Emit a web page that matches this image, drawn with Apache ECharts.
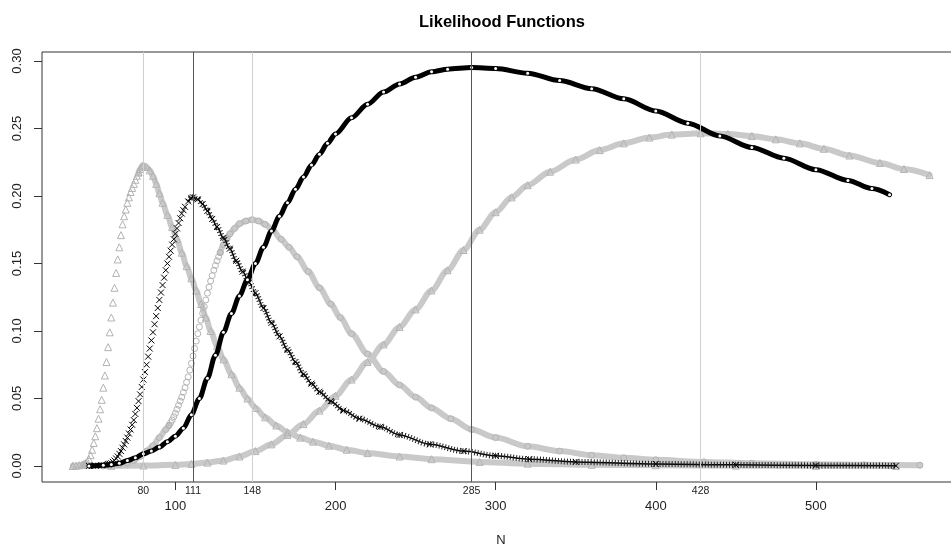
<!DOCTYPE html>
<html>
<head>
<meta charset="utf-8">
<title>Likelihood Functions</title>
<script src="https://cdn.jsdelivr.net/npm/echarts@6/dist/echarts.min.js"></script>
<style>
  html, body { margin: 0; padding: 0; background: #fff; }
  #chart { width: 951px; height: 548px; }
</style>
</head>
<body>
<div id="chart"></div>
<script>
// MLE of each likelihood (vertical reference lines + small labels)
var mleMarks = [80, 111, 148, 285, 428];
var xTicks = [100, 200, 300, 400, 500];
var yTicks = [0, 0.05, 0.10, 0.15, 0.20, 0.25, 0.30];

// curve A - grey triangles, peak at 80
var nA = [36, 38, 40, 42, 43, 44, 45, 46, 47, 48, 49, 50, 51, 52, 53, 54, 55, 56, 57, 58, 59, 60,
  61, 62, 63, 64, 65, 66, 67, 68, 69, 70, 71, 72, 73, 74, 75, 76, 77, 78, 79, 80,
  82, 84, 86, 88, 90, 92, 95, 98, 101, 104, 107, 110, 113, 116, 119, 122, 126, 130, 135, 140,
  145, 150, 156, 163, 170, 178, 186, 196, 207, 220, 240, 260, 290, 320, 360, 400, 450, 500, 550];
var likA = [0, 0.0002, 0.0005, 0.001, 0.0015, 0.002, 0.003, 0.005, 0.008, 0.012, 0.017, 0.022, 0.028, 0.035, 0.042, 0.049, 0.058, 0.067, 0.077, 0.088, 0.099, 0.110,
  0.121, 0.132, 0.143, 0.153, 0.162, 0.171, 0.179, 0.185, 0.190, 0.195, 0.199, 0.203, 0.206, 0.209, 0.212, 0.215, 0.2175, 0.220, 0.222, 0.2228,
  0.2215, 0.219, 0.215, 0.209, 0.202, 0.195, 0.186, 0.177, 0.168, 0.158, 0.148, 0.139, 0.130, 0.120, 0.110, 0.100, 0.089, 0.079, 0.068, 0.058,
  0.050, 0.043, 0.036, 0.030, 0.025, 0.021, 0.018, 0.015, 0.012, 0.0095, 0.007, 0.005, 0.003, 0.0017, 0.0009, 0.0005, 0.0002, 0.0001, 0];

// curve B - black crosses, peak at 111
var nB = [46, 50, 54, 58, 59, 60, 61, 62, 63, 64, 65, 66, 67, 68, 69, 70, 71, 72, 73, 74, 75, 76, 77, 78, 79, 80,
  81, 82, 83, 84, 85, 86, 87, 88, 89, 90, 91, 92, 93, 94, 95, 96, 97, 98, 99, 100, 101, 102, 103, 104, 105, 106,
  108, 110, 111, 114, 117, 120, 123, 126, 130, 134, 138, 142, 146, 150, 155, 160, 165, 170, 175, 180, 185, 190,
  197, 205, 215, 228, 240, 259, 280, 300, 321, 350, 400, 450, 500, 550];
var likB = [0, 0.0002, 0.0005, 0.0012, 0.0016, 0.002, 0.003, 0.004, 0.0055, 0.007, 0.009, 0.011, 0.0135, 0.016, 0.0185, 0.021, 0.024, 0.027, 0.0305, 0.034, 0.0385, 0.043, 0.048, 0.053, 0.0585, 0.064,
  0.0695, 0.075, 0.081, 0.087, 0.093, 0.099, 0.105, 0.111, 0.117, 0.123, 0.1285, 0.134, 0.1395, 0.145, 0.150, 0.155, 0.1595, 0.164, 0.168, 0.172, 0.176, 0.180, 0.1835, 0.187, 0.1895, 0.192,
  0.196, 0.1985, 0.199, 0.1975, 0.194, 0.189, 0.183, 0.177, 0.169, 0.161, 0.152, 0.144, 0.136, 0.128, 0.117, 0.106, 0.096, 0.086, 0.077, 0.068, 0.061, 0.055,
  0.048, 0.041, 0.035, 0.029, 0.023, 0.016, 0.011, 0.0075, 0.005, 0.003, 0.0015, 0.0008, 0.0004, 0.0002];

// curve C - grey circles, peak at 148
var nC = [55, 60, 65, 70, 74, 78, 82, 86, 90, 94, 96, 97, 98, 99, 100, 101, 102, 103, 104, 105, 106, 107, 108, 109, 110,
  111, 112, 113, 114, 115, 116, 117, 118, 119, 120, 121, 122, 123, 124, 125, 126, 127, 128, 130, 132, 134, 137, 140, 144, 148,
  152, 156, 161, 166, 171, 176, 183, 190, 197, 203, 210, 220, 230, 240, 250, 260, 272, 285, 300, 320, 340, 360, 380, 400,
  430, 460, 500, 530, 565];
var likC = [0, 0.0005, 0.001, 0.002, 0.004, 0.007, 0.011, 0.015, 0.021, 0.027, 0.030, 0.032, 0.034, 0.0365, 0.039, 0.042, 0.045, 0.048, 0.051, 0.0545, 0.058, 0.062, 0.066, 0.071, 0.076,
  0.0815, 0.087, 0.0925, 0.098, 0.103, 0.108, 0.113, 0.118, 0.123, 0.128, 0.1325, 0.137, 0.141, 0.145, 0.1485, 0.152, 0.155, 0.158, 0.164, 0.168, 0.172, 0.176, 0.1795, 0.1815, 0.1825,
  0.1815, 0.179, 0.1745, 0.168, 0.162, 0.155, 0.144, 0.132, 0.120, 0.110, 0.098, 0.083, 0.070, 0.060, 0.051, 0.043, 0.035, 0.027, 0.021, 0.0145, 0.011, 0.008, 0.006, 0.0045,
  0.003, 0.002, 0.0012, 0.0008, 0.0005];

// curve D - black circles, peak at 285
var nD = [46, 55, 60, 65, 70, 75, 80, 85, 90, 95, 100, 105, 110, 115, 120, 125, 130, 135, 140, 145, 150, 155, 160,
  165, 170, 175, 180, 185, 190, 195, 200, 210, 220, 230, 240, 250, 260, 270, 285, 300, 320, 340, 360, 380, 400,
  420, 440, 460, 480, 500, 520, 535, 546];
var likD = [0, 0.0005, 0.001, 0.002, 0.004, 0.006, 0.009, 0.011, 0.014, 0.018, 0.022, 0.028, 0.038, 0.050, 0.065, 0.082, 0.099, 0.113, 0.126, 0.138, 0.150, 0.162, 0.174,
  0.185, 0.195, 0.205, 0.214, 0.223, 0.231, 0.239, 0.246, 0.258, 0.268, 0.277, 0.283, 0.288, 0.292, 0.294, 0.2952, 0.2945, 0.291, 0.2855, 0.2795, 0.272, 0.263,
  0.254, 0.2445, 0.236, 0.228, 0.2195, 0.2115, 0.2055, 0.201];

// curve E - grey triangles, peak at 428
var nE = [36, 60, 80, 100, 110, 120, 130, 140, 150, 160, 170, 180, 190, 200, 210, 220, 230, 240, 250, 260, 270, 280,
  290, 300, 310, 320, 334, 350, 365, 380, 396, 410, 428, 445, 460, 475, 490, 505, 521, 540, 555, 571];
var likE = [0, 0.0001, 0.0003, 0.0008, 0.0015, 0.0025, 0.004, 0.007, 0.011, 0.016, 0.023, 0.031, 0.041, 0.052, 0.064, 0.077, 0.090, 0.103, 0.116, 0.130, 0.145, 0.160,
  0.175, 0.188, 0.199, 0.208, 0.218, 0.227, 0.234, 0.239, 0.2433, 0.2455, 0.2465, 0.246, 0.2445, 0.242, 0.239, 0.235, 0.230, 0.2245, 0.220, 0.2155];

var GREY = '#c9c9c9', GREY_MK = '#b3b3b3', BLACK = '#000';
var CROSS = 'path://M0,0L10,10M0,10L10,0';
var FONT = '"Liberation Sans", Arial, Helvetica, sans-serif';

// band part of a curve: points inside (lo, hi) become gaps
function bandData(ns, ls, lo, hi) {
  return ns.map(function (n, i) { return (n > lo && n < hi) ? [n, '-'] : [n, ls[i]]; });
}
// steep part of a curve: only the points in [lo, hi]
function markData(ns, ls, lo, hi) {
  var out = [];
  ns.forEach(function (n, i) { if (n >= lo && n <= hi) out.push([n, ls[i]]); });
  return out;
}

function curve(ns, ls, lo, hi, o) {
  var mk = {
    color: o.fill || 'rgba(0,0,0,0)',
    borderColor: o.mk,
    borderWidth: 1
  };
  var out = [{
    type: 'line',
    data: bandData(ns, ls, lo, hi),
    smooth: 0.3,
    smoothMonotone: 'x',
    symbol: o.bandSymbol || o.symbol,
    symbolSize: o.bandSize || o.size,
    showAllSymbol: true,
    lineStyle: { color: o.band, width: o.width, cap: 'round', join: 'round' },
    itemStyle: o.bandItem || mk,
    z: o.z
  }, {
    type: 'line',
    data: markData(ns, ls, lo, hi),
    symbol: o.symbol,
    symbolSize: o.size,
    showAllSymbol: true,
    lineStyle: { width: 0, opacity: 0 },
    itemStyle: mk,
    z: o.z
  }];
  if (o.hatch) {
    // short strokes across the band, like overlapping crosses
    out.push({
      type: 'line',
      data: bandData(ns, ls, lo, hi),
      smooth: 0.3,
      smoothMonotone: 'x',
      showSymbol: false,
      lineStyle: { color: o.hatch, width: 6, type: [1, 2] },
      z: o.z
    });
  }
  return out;
}

var chart = echarts.init(document.getElementById('chart'), null, { renderer: 'canvas' });

var series = [].concat(
  curve(nE, likE, 0, 0, { symbol: 'triangle', size: 7, mk: GREY_MK, band: GREY, width: 6, z: 2 }),
  curve(nC, likC, 96, 128, { symbol: 'circle', size: 6, mk: GREY_MK, band: GREY, width: 6, z: 2 }),
  curve(nA, likA, 44, 77, { symbol: 'triangle', size: 7, mk: GREY_MK, band: GREY, width: 6, z: 2 }),
  curve(nB, likB, 58, 107, { symbol: CROSS, size: 6, mk: BLACK, band: BLACK, width: 1.5, z: 3, hatch: '#222' }),
  curve(nD, likD, 0, 0, { symbol: 'circle', size: 6, mk: BLACK, band: BLACK, width: 5, z: 3,
    bandSymbol: 'circle', bandSize: 3, bandItem: { color: '#fff', borderWidth: 0 } })
);

// vertical lines at the MLEs
series.push({
  type: 'line',
  data: [],
  z: 4,
  markLine: {
    silent: true,
    symbol: ['none', 'none'],
    label: { show: false },
    animation: false,
    data: mleMarks.map(function (m, i) {
      return { xAxis: m, lineStyle: { color: i % 2 ? '#555' : '#cfcfcf', width: 1, type: 'solid' } };
    })
  }
});

var option = {
  animation: false,
  backgroundColor: '#fff',
  title: {
    text: 'Likelihood Functions',
    left: 497,
    top: 9,
    textAlign: 'center',
    textStyle: { fontFamily: FONT, fontSize: 16.5, fontWeight: 'bold', color: '#000' }
  },
  grid: {
    left: 42, top: 52, width: 918, height: 430,
    outerBoundsMode: 'none',
    containLabel: false,
    show: true, borderColor: '#333', borderWidth: 1, backgroundColor: 'transparent'
  },
  xAxis: [{
    type: 'value', min: 16.7, max: 590, position: 'bottom',
    name: 'N', nameLocation: 'middle', nameGap: 52,
    nameTextStyle: { fontFamily: FONT, fontSize: 13, color: '#222' },
    axisLine: { show: false, onZero: false },
    splitLine: { show: false },
    axisTick: { show: true, inside: false, length: 8, customValues: xTicks, lineStyle: { color: '#333' } },
    axisLabel: { customValues: xTicks, margin: 18, fontFamily: FONT, fontSize: 13, color: '#222' }
  }, {
    type: 'value', min: 16.7, max: 590, position: 'bottom', offset: 0,
    axisLine: { show: false, onZero: false },
    splitLine: { show: false },
    axisTick: { show: false },
    axisLabel: { customValues: mleMarks, margin: 4, fontFamily: FONT, fontSize: 10.5, color: '#222' }
  }],
  yAxis: {
    type: 'value', min: -0.0119, max: 0.3067,
    axisLine: { show: false, onZero: false },
    splitLine: { show: false },
    axisTick: { show: true, inside: false, length: 8, customValues: yTicks, lineStyle: { color: '#333' } },
    axisLabel: {
      customValues: yTicks, rotate: 90, margin: 18,
      fontFamily: FONT, fontSize: 13, color: '#222',
      formatter: function (v) { return v.toFixed(2); }
    }
  },
  series: series
};

chart.setOption(option);
</script>
</body>
</html>
